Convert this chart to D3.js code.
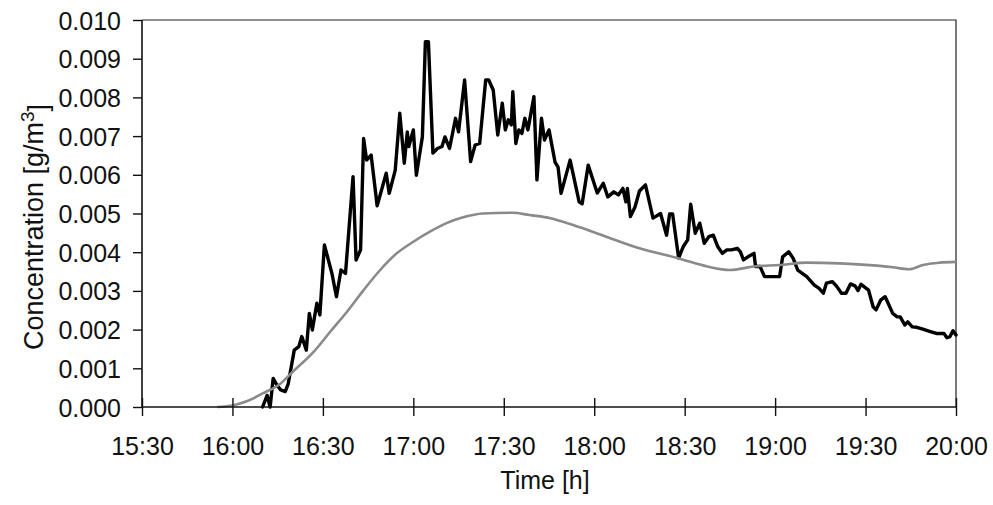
<!DOCTYPE html>
<html>
<head>
<meta charset="utf-8">
<script src="https://cdn.jsdelivr.net/npm/d3@7"></script>
<style>
  html, body { margin: 0; padding: 0; background: #fff; }
  svg { display: block; font-family: "Liberation Sans", Arial, Helvetica, sans-serif; }
</style>
</head>
<body>
<svg id="chart" width="993" height="505"></svg>
<script>
// Measured concentration (black) — time of day and value in g/m³
const measuredTime = [
  "16:10:00","16:11:30","16:12:30","16:13:30","16:14:30","16:16:00","16:17:30","16:18:30",
  "16:20:30","16:22:00","16:23:00","16:24:30","16:25:30","16:26:30","16:28:00","16:29:00",
  "16:30:30","16:33:00","16:34:30","16:36:00","16:37:30","16:40:00","16:41:00","16:42:30",
  "16:43:30","16:44:30","16:46:00","16:48:00","16:51:00","16:52:00","16:54:00","16:55:30",
  "16:57:00","16:58:00","16:58:30","17:00:00","17:01:00","17:03:00","17:04:00","17:05:00",
  "17:06:30","17:08:00","17:09:30","17:10:30","17:12:00","17:14:00","17:15:00","17:17:00",
  "17:19:00","17:20:30","17:22:00","17:24:00","17:25:00","17:26:30","17:28:00","17:29:30",
  "17:30:30","17:31:30","17:32:30","17:33:00","17:34:00","17:35:00","17:36:00","17:37:00",
  "17:38:00","17:40:00","17:41:00","17:42:30","17:43:30","17:45:00","17:47:00","17:48:00",
  "17:49:00","17:52:00","17:55:00","17:56:00","17:58:00","18:01:00","18:03:00","18:04:30",
  "18:06:30","18:08:00","18:09:30","18:10:30","18:11:00","18:12:00","18:13:30","18:15:00",
  "18:17:00","18:19:30","18:22:00","18:24:00","18:25:00","18:26:00","18:28:00","18:29:30",
  "18:31:00","18:32:00","18:33:30","18:35:00","18:36:30","18:38:00","18:39:30","18:41:00",
  "18:42:30","18:44:00","18:45:30","18:47:30","18:48:30","18:49:30","18:51:00","18:53:00",
  "18:53:30","18:55:00","18:56:30","18:58:30","19:01:30","19:02:30","19:04:30","19:06:00",
  "19:07:30","19:10:30","19:13:00","19:14:30","19:16:00","19:17:00","19:19:00","19:20:30",
  "19:22:00","19:23:30","19:25:00","19:26:30","19:27:30","19:28:30","19:31:00","19:32:30",
  "19:33:30","19:35:00","19:36:30","19:37:30","19:39:00","19:40:30","19:41:30","19:43:00",
  "19:44:00","19:45:30","19:47:00","19:49:00","19:51:30","19:53:30","19:56:00","19:57:00",
  "19:58:00","19:59:00","20:00:00"
];
const measuredValue = [
  0.0000,0.0003,0.0000,0.00074,0.0006,0.00044,0.0004,0.0006,
  0.00147,0.00156,0.00182,0.00147,0.00242,0.00199,0.00268,0.00238,
  0.00419,0.00345,0.00285,0.00354,0.00345,0.00595,0.0038,0.00406,
  0.00694,0.00638,0.00651,0.0052,0.00604,0.00552,0.00612,0.00759,
  0.0063,0.00711,0.00673,0.00716,0.00599,0.00698,0.00944,0.00944,
  0.00656,0.00668,0.00673,0.00698,0.00668,0.00746,0.00711,0.00845,
  0.00634,0.00677,0.00681,0.00845,0.00845,0.00819,0.00703,0.00785,
  0.00716,0.00742,0.00729,0.00815,0.00681,0.00716,0.00707,0.00746,
  0.00716,0.00802,0.00587,0.00746,0.0069,0.00716,0.00633,0.0062,
  0.00552,0.00638,0.0053,0.00525,0.00625,0.00553,0.00578,0.00543,
  0.00556,0.00548,0.00565,0.0053,0.00565,0.00492,0.00516,0.00558,
  0.00574,0.00488,0.0050,0.00444,0.00499,0.00499,0.00385,0.00414,
  0.00432,0.00524,0.00449,0.00475,0.00423,0.0044,0.00444,0.00414,
  0.00397,0.00406,0.00406,0.0041,0.00401,0.0038,0.00388,0.00397,
  0.00363,0.00363,0.00337,0.00337,0.00337,0.00388,0.00401,0.00384,
  0.00354,0.00337,0.00315,0.00307,0.00294,0.0032,0.00324,0.00311,
  0.00294,0.00294,0.00318,0.00313,0.00301,0.00317,0.00302,0.00259,
  0.00251,0.00276,0.00285,0.00268,0.00242,0.00233,0.00233,0.00212,
  0.0022,0.00207,0.00206,0.00201,0.00195,0.0019,0.0019,0.00179,
  0.00182,0.00197,0.00186
];

// Simulated concentration (grey) — time of day and value in g/m³
const simulatedTime = [
  "15:55:00","15:59:30","16:04:30","16:10:00","16:16:00","16:20:00","16:27:00","16:32:30",
  "16:38:00","16:43:30","16:49:00","16:54:30","17:00:00","17:05:30","17:11:00","17:16:30",
  "17:23:00","17:33:00","17:38:30","17:45:30","17:53:00","18:04:00","18:15:00","18:28:00",
  "18:37:30","18:45:00","18:53:00","19:01:30","19:10:30","19:21:30","19:32:30","19:39:00",
  "19:44:30","19:49:00","19:54:30","20:00:00"
];
const simulatedValue = [
  0.0000,0.00003,0.00014,0.00035,0.00061,0.00091,0.00143,0.00195,
  0.00246,0.00302,0.00354,0.00397,0.00427,0.00453,0.00475,0.0049,
  0.0050,0.00502,0.00496,0.00488,0.0047,0.0044,0.0041,0.00384,
  0.00363,0.00354,0.00363,0.00367,0.00373,0.00371,0.00366,0.00361,
  0.00356,0.00367,0.00373,0.00375
];

// Axis ticks
const xTickLabels = ["15:30","16:00","16:30","17:00","17:30","18:00","18:30","19:00","19:30","20:00"];
const yTickValues = [0,0.001,0.002,0.003,0.004,0.005,0.006,0.007,0.008,0.009,0.010];

const parseTime = d3.timeParse("%H:%M:%S");
const parseTick = d3.timeParse("%H:%M");

const svg = d3.select("#chart");
const plot = { left: 142, right: 956, top: 20, bottom: 407 };

const x = d3.scaleTime()
  .domain([parseTick("15:30"), parseTick("20:00")])
  .range([plot.left, plot.right]);
const y = d3.scaleLinear()
  .domain([0, 0.010])
  .range([plot.bottom, plot.top]);

const measured = measuredTime.map((t, i) => ({ t: parseTime(t), v: measuredValue[i] }));
const simulated = simulatedTime.map((t, i) => ({ t: parseTime(t), v: simulatedValue[i] }));

// Plot-area frame (top and right edges)
svg.append("path")
  .attr("d", `M${plot.left},${plot.top}H${plot.right}V${plot.bottom}`)
  .attr("fill", "none")
  .attr("stroke", "#222")
  .attr("stroke-width", 1.2);

svg.append("path")
  .datum(measured)
  .attr("d", d3.line().x(d => x(d.t)).y(d => y(d.v)).curve(d3.curveLinear))
  .attr("fill", "none")
  .attr("stroke", "#000")
  .attr("stroke-width", 3.4)
  .attr("stroke-linejoin", "round")
  .attr("stroke-linecap", "round");

svg.append("path")
  .datum(simulated)
  .attr("d", d3.line().x(d => x(d.t)).y(d => y(d.v)).curve(d3.curveMonotoneX))
  .attr("fill", "none")
  .attr("stroke", "#8a8a8a")
  .attr("stroke-width", 2.6)
  .attr("stroke-linejoin", "round");

// Y axis
const yAxis = svg.append("g")
  .attr("transform", `translate(${plot.left},0)`)
  .call(d3.axisLeft(y)
    .tickValues(yTickValues)
    .tickFormat(d3.format(".3f"))
    .tickSize(9)
    .tickPadding(12));
yAxis.select(".domain").attr("stroke", "#111").attr("stroke-width", 1.6).attr("d", `M0,${plot.top}V${plot.bottom}`);
yAxis.selectAll(".tick line").attr("stroke", "#111").attr("stroke-width", 1.4);
yAxis.selectAll(".tick text")
  .attr("fill", "#111")
  .style("font-size", "25px")
  .attr("dy", "0.36em");

// X axis (ticks cross the axis line)
const xAxis = svg.append("g")
  .attr("transform", `translate(0,${plot.bottom})`)
  .call(d3.axisBottom(x)
    .tickValues(xTickLabels.map(parseTick))
    .tickFormat((d, i) => xTickLabels[i])
    .tickSize(9)
    .tickPadding(21));
xAxis.select(".domain").attr("stroke", "#111").attr("stroke-width", 1.6).attr("d", `M${plot.left},0H${plot.right}`);
xAxis.selectAll(".tick line").attr("y1", -9).attr("stroke", "#111").attr("stroke-width", 1.4);
xAxis.selectAll(".tick text")
  .attr("fill", "#111")
  .style("font-size", "25px");

// Axis titles
svg.append("text")
  .attr("x", 545)
  .attr("y", 489)
  .attr("text-anchor", "middle")
  .attr("fill", "#111")
  .style("font-size", "25px")
  .text("Time [h]");

const yTitle = svg.append("text")
  .attr("transform", "translate(43,227) rotate(-90)")
  .attr("text-anchor", "middle")
  .attr("fill", "#111")
  .style("font-size", "27px");
yTitle.append("tspan").text("Concentration [g/m");
yTitle.append("tspan").attr("dy", "-0.5em").style("font-size", "19px").text("3");
yTitle.append("tspan").attr("dy", "0.5em").text("]");
</script>
</body>
</html>
